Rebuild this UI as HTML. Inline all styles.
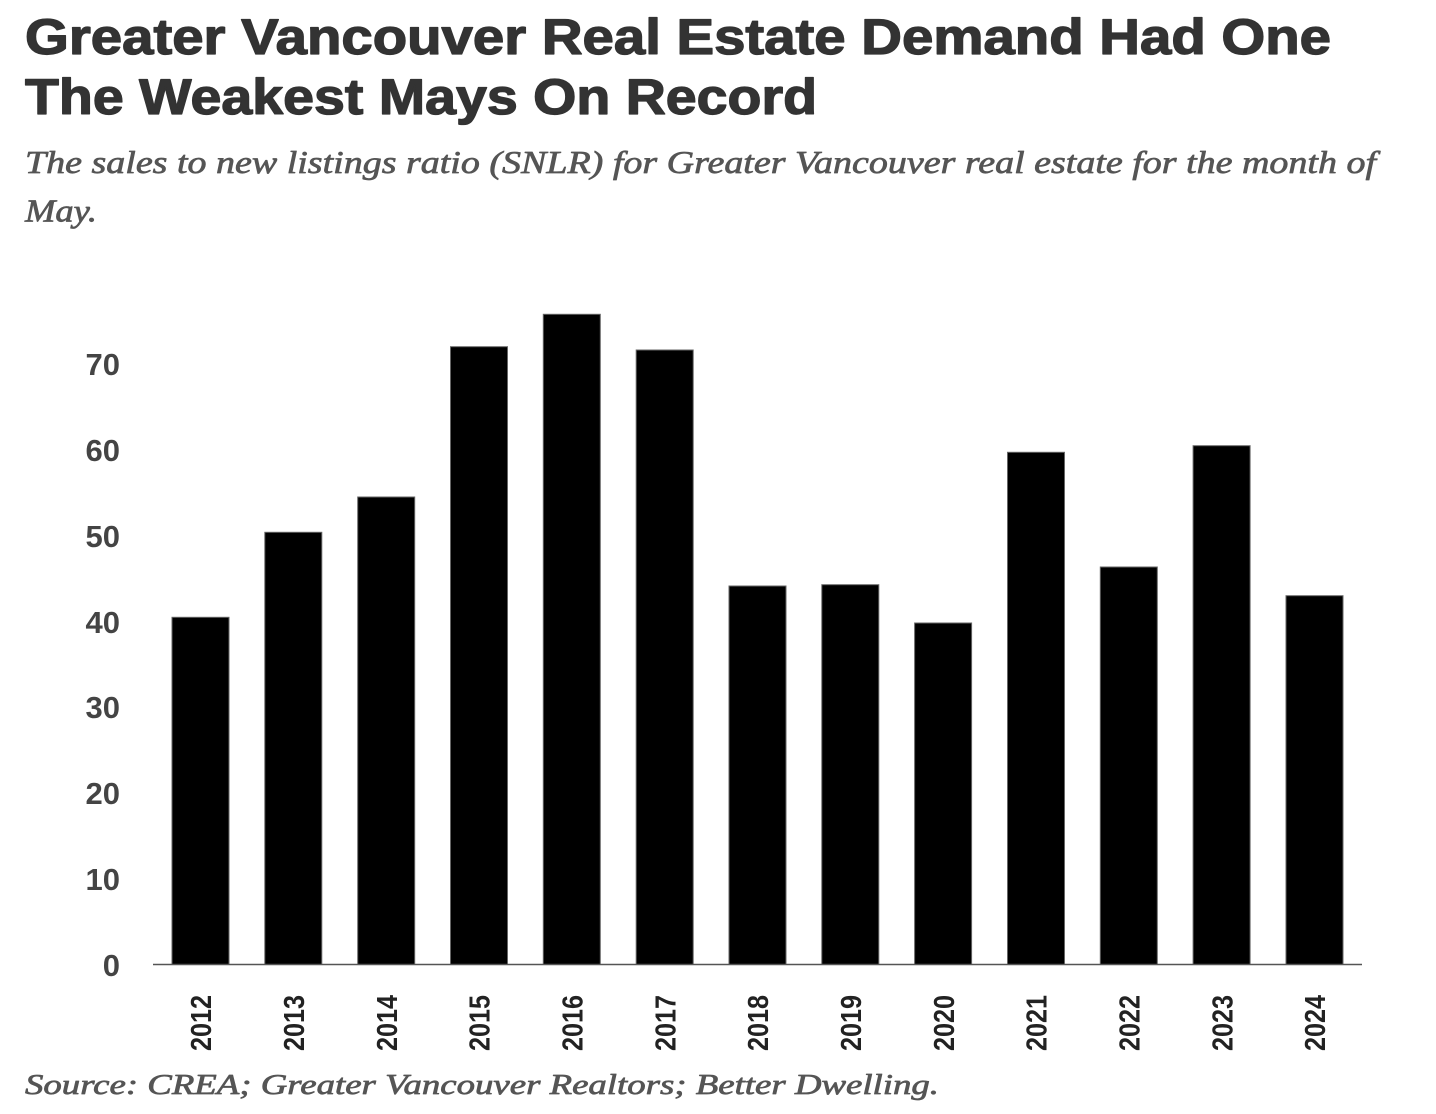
<!DOCTYPE html>
<html>
<head>
<meta charset="utf-8">
<style>
html,body{margin:0;padding:0;background:#fff;}
svg{display:block;}
</style>
</head>
<body>
<svg width="1436" height="1114" viewBox="0 0 1436 1114" xmlns="http://www.w3.org/2000/svg">
<rect width="1436" height="1114" fill="#fff"/>
<g font-family="'Liberation Sans', Arial, sans-serif" font-weight="bold" fill="#333" stroke="#333" stroke-width="1.3" stroke-linejoin="round">
<text x="25" y="54" font-size="50" textLength="1306" lengthAdjust="spacingAndGlyphs">Greater Vancouver Real Estate Demand Had One</text>
<text x="25" y="114" font-size="50" textLength="792" lengthAdjust="spacingAndGlyphs">The Weakest Mays On Record</text>
</g>
<g font-family="'Liberation Serif', serif" font-style="italic" fill="#555" stroke="#555" stroke-width="0.7" stroke-linejoin="round">
<text x="25" y="173" font-size="32" textLength="1351" lengthAdjust="spacingAndGlyphs">The sales to new listings ratio (SNLR) for Greater Vancouver real estate for the month of</text>
<text x="25" y="221.5" font-size="32" textLength="72" lengthAdjust="spacingAndGlyphs">May.</text>
<text x="25" y="1094" font-size="28" textLength="914" lengthAdjust="spacingAndGlyphs">Source: CREA; Greater Vancouver Realtors; Better Dwelling.</text>
</g>
<g font-family="'Liberation Sans', Arial, sans-serif" font-weight="bold" fill="#444" font-size="31" text-anchor="end">
<text x="120" y="375">70</text>
<text x="120" y="461">60</text>
<text x="120" y="547">50</text>
<text x="120" y="633">40</text>
<text x="120" y="718">30</text>
<text x="120" y="804">20</text>
<text x="120" y="890">10</text>
<text x="120" y="976">0</text>
</g>
<g fill="#000" stroke="#666" stroke-width="1">
<rect x="172" y="617.3" width="57" height="347.2"/>
<rect x="264.8" y="532.3" width="57" height="432.2"/>
<rect x="357.7" y="497" width="57" height="467.5"/>
<rect x="450.5" y="346.7" width="57" height="617.8"/>
<rect x="543.3" y="314.3" width="57" height="650.2"/>
<rect x="636.2" y="350" width="57" height="614.5"/>
<rect x="729" y="586" width="57" height="378.5"/>
<rect x="821.8" y="584.7" width="57" height="379.8"/>
<rect x="914.6" y="623" width="57" height="341.5"/>
<rect x="1007.5" y="452.3" width="57" height="512.2"/>
<rect x="1100.3" y="567" width="57" height="397.5"/>
<rect x="1193.1" y="445.7" width="57" height="518.8"/>
<rect x="1286" y="595.7" width="57" height="368.8"/>
</g>
<line x1="153" y1="964.5" x2="1362" y2="964.5" stroke="#555" stroke-width="1.6"/>
<g font-family="'Liberation Sans', Arial, sans-serif" font-weight="bold" fill="#222" font-size="29" text-anchor="end">
<text transform="translate(211.2,995) rotate(-90)" textLength="56" lengthAdjust="spacingAndGlyphs">2012</text>
<text transform="translate(304,995) rotate(-90)" textLength="56" lengthAdjust="spacingAndGlyphs">2013</text>
<text transform="translate(396.9,995) rotate(-90)" textLength="56" lengthAdjust="spacingAndGlyphs">2014</text>
<text transform="translate(489.7,995) rotate(-90)" textLength="56" lengthAdjust="spacingAndGlyphs">2015</text>
<text transform="translate(582.5,995) rotate(-90)" textLength="56" lengthAdjust="spacingAndGlyphs">2016</text>
<text transform="translate(675.4,995) rotate(-90)" textLength="56" lengthAdjust="spacingAndGlyphs">2017</text>
<text transform="translate(768.2,995) rotate(-90)" textLength="56" lengthAdjust="spacingAndGlyphs">2018</text>
<text transform="translate(861,995) rotate(-90)" textLength="56" lengthAdjust="spacingAndGlyphs">2019</text>
<text transform="translate(953.8,995) rotate(-90)" textLength="56" lengthAdjust="spacingAndGlyphs">2020</text>
<text transform="translate(1046.7,995) rotate(-90)" textLength="56" lengthAdjust="spacingAndGlyphs">2021</text>
<text transform="translate(1139.5,995) rotate(-90)" textLength="56" lengthAdjust="spacingAndGlyphs">2022</text>
<text transform="translate(1232.3,995) rotate(-90)" textLength="56" lengthAdjust="spacingAndGlyphs">2023</text>
<text transform="translate(1325.2,995) rotate(-90)" textLength="56" lengthAdjust="spacingAndGlyphs">2024</text>
</g>
</svg>
</body>
</html>
